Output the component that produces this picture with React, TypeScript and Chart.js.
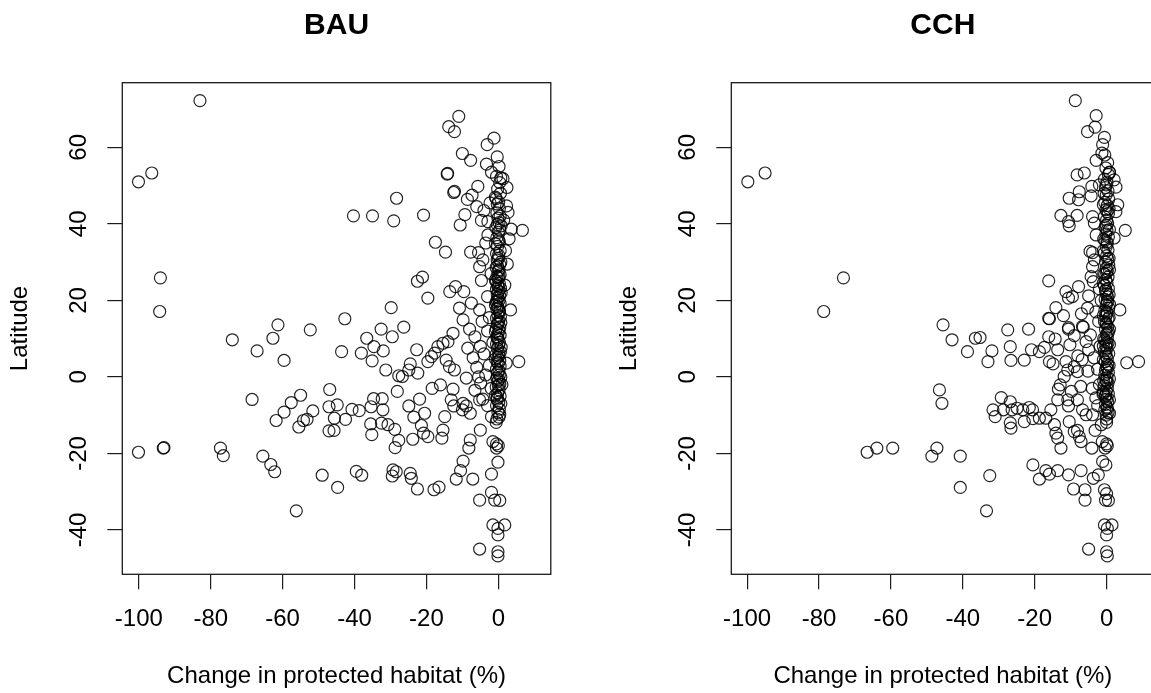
import React, { useEffect, useRef } from "react";
import { Chart, registerables } from "chart.js";

Chart.register(...registerables);

const xTickValues = [-100, -80, -60, -40, -20, 0];
const yTickValues = [-40, -20, 0, 20, 40, 60];
const panelTitles = ["BAU", "CCH"];
const xAxisTitle = "Change in protected habitat (%)";
const yAxisTitle = "Latitude";

// BAU scenario: [change in protected habitat (%), latitude]
const bauPoints: [number, number][] = [
  [-83.0, 72.2], [-100.1, 51.0], [-96.4, 53.3], [-94.0, 25.9], [-94.2, 17.1], [-61.3, 13.6], [-52.3, 12.3], [-42.7, 15.2], [-32.6, 12.5], [-26.3, 13.0],
  [-40.3, 42.1], [-35.0, 42.1], [-29.1, 40.8], [-28.3, 46.7], [-20.8, 42.3], [-17.5, 35.2], [-14.7, 32.6], [-22.5, 25.0], [-21.1, 26.1], [-19.6, 20.6],
  [-29.8, 18.1], [-13.8, 65.4], [-12.2, 64.1], [-11.0, 68.1], [-10.0, 58.4], [-7.7, 56.6], [-14.2, 53.0], [-14.1, 53.2], [-12.4, 48.2], [-12.2, 48.5],
  [-8.6, 46.4], [-7.3, 47.5], [-9.3, 42.4], [-10.6, 39.7], [-3.1, 60.7], [-1.2, 62.4], [-3.3, 55.6], [-1.9, 53.5], [1.3, 51.8], [2.4, 49.5],
  [-5.7, 49.8], [-4.7, 40.9], [6.7, 38.3], [3.6, 38.6], [2.7, 43.0], [2.3, 44.7], [3.0, 36.1], [-7.7, 32.6], [-5.5, 32.5], [-4.3, 30.6],
  [-5.2, 28.8], [-4.7, 25.2], [-13.5, 22.3], [-11.9, 23.6], [-9.6, 22.3], [-10.8, 18.0], [-7.5, 19.3], [3.4, 17.5], [-9.8, 14.9], [-5.2, 17.5],
  [-2.9, 37.1], [-2.9, 40.6],
  [-100.1, -19.7], [-93.2, -18.6], [-93.0, -18.5], [-77.3, -18.6], [-76.5, -20.6], [-74.0, 9.7], [-67.1, 6.8], [-62.7, 10.1], [-59.6, 4.3], [-43.6, 6.6],
  [-68.5, -5.9], [-65.5, -20.7], [-63.3, -22.9], [-62.2, -24.8], [-61.8, -11.4], [-59.6, -9.2], [-57.6, -6.7], [-55.0, -4.8], [-55.5, -13.1], [-54.2, -11.4],
  [-53.2, -11.1], [-51.6, -8.9], [-56.2, -35.0], [-49.0, -25.7], [-44.7, -28.9], [-46.9, -3.3], [-47.1, -7.8], [-44.8, -7.3], [-45.6, -10.8], [-47.1, -14.1],
  [-45.7, -14.0], [-42.5, -11.1], [-40.7, -8.5], [-38.7, -8.8], [-39.5, -24.7], [-38.0, -25.7], [-38.1, 6.2], [-36.6, 10.1], [-34.6, 7.9], [-35.1, 4.2],
  [-32.0, 6.8], [-29.5, 10.5], [-31.3, 1.8], [-34.7, -5.7], [-32.3, -5.7], [-35.4, -7.8], [-32.1, -8.6], [-35.5, -12.3], [-35.2, -15.1], [-32.5, -12.1],
  [-30.7, -12.5], [-28.8, -13.7], [-27.7, -16.6], [-28.7, -18.5], [-29.3, -24.3], [-28.4, -24.8], [-29.5, -25.9], [-24.5, -25.2], [-24.2, -26.5], [-22.5, -29.3],
  [-17.9, -29.5], [-16.5, -28.8], [-28.1, -3.8], [-27.7, 0.3], [-26.7, 0.1], [-24.5, 3.4], [-24.9, 1.8], [-22.4, 1.0], [-22.7, 7.1], [-21.9, -5.8],
  [-24.9, -7.6], [-23.5, -10.5], [-20.5, -9.5], [-23.8, -16.3], [-21.4, -12.7], [-20.8, -14.7], [-19.6, -15.6], [-15.7, -16.0], [-15.4, -13.9], [-14.9, -10.4],
  [-18.4, -3.0], [-16.1, -2.1], [-19.6, 4.0], [-18.6, 5.3], [-17.7, 6.2], [-16.8, 7.9], [-15.4, 8.8], [-14.0, 9.2], [-14.5, 4.4], [-13.6, 2.7],
  [-12.2, 1.8], [-12.6, 11.4], [-8.9, -0.3], [-12.6, -3.2], [-13.1, -6.0], [-12.4, -7.6], [-9.8, -6.9], [-10.0, -8.6], [-8.9, -7.6], [-7.8, -9.5],
  [-5.0, -13.9], [-7.8, -16.5], [-8.2, -18.6], [-9.8, -22.0], [-10.5, -24.5], [-11.7, -26.7], [-7.1, -26.7], [-5.2, -32.2], [-1.9, -30.2], [-1.9, -25.4],
  [-5.2, -45.0], [-1.0, -32.2], [0.4, -32.3], [-1.5, -38.7], [-0.1, -39.6], [1.8, -38.7], [-0.1, -41.3], [-0.1, -45.7], [-0.1, -46.8], [-1.5, -16.9],
  [-0.5, -17.5], [0.0, -18.0], [-0.5, -18.6], [-0.1, -22.3], [0.4, -9.8], [-1.9, -10.4], [-0.6, -11.9], [5.7, 4.0], [2.2, 3.6], [-5.2, -6.0],
  [-4.3, -5.8], [-4.9, -1.6], [-6.5, 10.5], [-5.0, 8.0], [-7.0, 5.0], [-6.0, 2.5], [-4.0, 6.0], [-3.0, 12.0], [-8.0, 12.5], [-4.5, 14.5],
  [-2.5, 3.0], [-3.5, 0.5], [-2.0, -3.0], [-6.5, -3.5], [-3.0, -7.5], [-1.5, 9.0], [-8.5, 7.5], [-2.5, 15.5], [1.0, -2.0], [-5.5, 0.0],
  [-2.3, 45.5], [-4.0, 43.5], [1.5, 41.0], [-3.5, 35.0], [2.0, 33.0], [-2.0, 27.0], [1.8, 24.0], [-3.0, 21.0], [2.5, 29.5], [-6.0, 44.5],
  [-0.3, 57.5], [0.2, 55.0], [-0.5, 52.4], [0.4, 50.8], [-0.2, 49.1], [0.6, 48.0], [-0.6, 46.6], [0.1, 45.7], [-0.3, 45.2], [0.3, 44.0],
  [-0.4, 42.9], [0.5, 42.0], [-0.1, 41.5], [0.2, 40.3], [-0.7, 39.0], [0.4, 38.4], [0.0, 37.8], [-0.4, 36.4], [0.3, 35.3], [-0.2, 34.1],
  [0.5, 33.0], [-0.5, 32.2], [0.1, 31.8], [-0.3, 30.5], [0.4, 29.4], [-0.6, 28.6], [0.2, 28.0], [-0.1, 27.5], [0.5, 26.7], [-0.4, 26.2],
  [0.0, 25.8], [-0.6, 24.9], [0.3, 24.4], [-0.2, 24.0], [0.6, 23.2], [-0.5, 22.9], [0.1, 22.4], [-0.3, 21.6], [0.4, 21.2], [-0.1, 20.8],
  [0.2, 20.0], [-0.6, 19.6], [0.5, 19.2], [-0.2, 18.4], [0.0, 18.0], [-0.4, 17.7], [0.3, 16.9], [-0.1, 16.1], [0.6, 15.7], [-0.5, 15.3],
  [0.1, 14.6], [-0.3, 13.8], [0.4, 13.0], [-0.6, 12.6], [0.2, 12.1], [-0.1, 11.3], [0.5, 10.9], [-0.4, 10.5], [0.0, 9.8], [0.3, 9.0],
  [-0.5, 8.6], [0.1, 8.2], [-0.2, 7.4], [0.6, 6.6], [-0.6, 5.9], [0.2, 5.5], [-0.1, 5.1], [0.4, 4.3], [-0.3, 3.9], [0.0, 3.5],
  [0.5, 2.8], [-0.5, 2.0], [0.2, 1.6], [-0.2, 1.2], [0.3, 0.5], [-0.4, -0.3], [0.1, -0.7], [-0.1, -1.1], [0.4, -1.9], [-0.6, -2.6],
  [0.2, -3.4], [-0.2, -4.2], [0.5, -5.0], [-0.3, -5.8], [0.1, -6.6], [-0.5, -7.5], [0.3, -8.4], [-0.1, -9.3],
  [0.7, 52.0], [-0.8, 47.0], [0.8, 39.5], [-0.8, 34.8], [0.7, 30.0], [-0.8, 25.3], [0.8, 22.0], [-0.8, 18.8], [0.7, 14.2], [-0.8, 11.8],
  [0.8, 7.8], [-0.8, 4.7], [0.7, 0.0], [-0.8, -4.8], [0.7, -7.0], [-0.2, 29.0], [0.2, 26.2], [0.0, 23.6], [-0.3, 19.9], [0.3, 17.3],
  [0.0, 14.0], [-0.2, 10.1], [0.2, 6.2], [0.0, -2.2], [-0.3, -5.3], [0.2, -10.5], [-0.4, -11.0], [0.0, 31.0], [0.1, 35.8], [-0.3, 39.8],
];

// CCH scenario: [change in protected habitat (%), latitude]
const cchPoints: [number, number][] = [
  [-8.7, 72.2], [-99.8, 51.0], [-95.0, 53.3], [-73.2, 25.9], [-78.7, 17.1], [-45.5, 13.6], [-27.5, 12.3], [-21.7, 12.5], [-16.1, 25.1], [-11.3, 22.3],
  [-10.6, 20.6], [-7.8, 23.6], [-14.1, 18.1], [-16.1, 15.3], [-10.6, 12.9], [-6.7, 13.2], [-5.0, 21.2], [-5.3, 18.0], [3.7, 17.5], [-2.9, 68.3],
  [-5.3, 64.1], [-3.2, 65.3], [-0.6, 62.6], [-1.1, 60.7], [-1.3, 58.5], [-2.9, 56.6], [0.8, 53.4], [-8.2, 52.8], [-6.2, 53.3], [-4.1, 49.8],
  [-2.0, 50.2], [2.1, 51.5], [2.6, 49.6], [-7.6, 48.4], [-4.3, 47.3], [-10.4, 46.7], [-7.8, 46.3], [-12.7, 42.2], [-10.6, 40.6], [-10.4, 39.5],
  [-8.2, 42.2], [-3.9, 41.9], [-3.4, 40.2], [3.1, 45.0], [2.6, 43.2], [5.2, 38.3], [2.1, 36.3], [-2.9, 37.1], [-4.6, 32.8], [-3.9, 32.5],
  [-3.4, 30.6], [-3.9, 28.8], [-4.3, 26.2], [-3.7, 24.9], [-66.6, -19.7], [-63.9, -18.6], [-59.5, -18.6], [-48.6, -20.7], [-47.2, -18.6], [-40.7, -20.7],
  [-40.7, -28.9], [-32.5, -25.8], [-33.4, -35.0], [-46.5, -3.4], [-45.8, -6.9], [-43.0, 9.7], [-38.7, 6.6], [-36.5, 10.1], [-35.2, 10.3], [-31.9, 6.8],
  [-33.0, 4.0], [-26.8, 7.9], [-26.6, 4.3], [-22.9, 4.4], [-20.9, 7.1], [-18.7, 6.6], [-17.3, 7.7], [-15.9, 15.2], [-16.1, 10.5], [-14.3, 9.9],
  [-13.6, 7.1], [-10.6, 12.5], [-9.0, 10.8], [-6.5, 13.0], [-10.2, 8.4], [-5.7, 9.2], [-5.0, 7.1], [-15.9, 4.0], [-14.9, 3.4], [-11.3, 4.0],
  [-10.8, 1.8], [-11.8, 0.1], [-9.0, 2.7], [-8.1, 1.4], [-12.9, -2.1], [-13.4, -3.2], [-13.6, -6.0], [-10.8, -6.0], [-10.6, -7.6], [-8.1, -6.0],
  [-15.5, -8.6], [-18.7, -10.8], [-16.9, -10.8], [-14.5, -12.5], [-14.1, -14.7], [-13.6, -16.0], [-12.7, -18.6], [-10.4, -11.7], [-9.0, -14.3], [-8.1, -14.0],
  [-7.6, -15.6], [-7.1, -16.9], [-4.1, -18.6], [-20.5, -23.0], [-18.7, -26.7], [-16.9, -24.5], [-15.9, -25.4], [-13.6, -24.5], [-10.6, -25.6], [-7.1, -24.5],
  [-9.2, -29.3], [-6.0, -29.5], [-6.0, -32.2], [-5.0, -45.0], [-3.7, -26.5], [-2.3, -25.6], [-1.1, -22.1], [-0.2, -23.0], [-0.6, -29.5], [0.0, -30.5],
  [-0.3, -32.2], [0.5, -32.3], [-0.6, -38.7], [0.2, -39.6], [1.5, -38.7], [0.0, -41.3], [0.0, -45.7], [0.2, -46.8], [-1.2, -16.9], [0.0, -17.5],
  [-0.4, -18.6], [0.2, -18.0], [-3.9, -9.9], [0.8, -9.5], [0.0, -11.9], [5.6, 3.7], [8.9, 4.0], [-6.7, -8.6], [-5.7, -9.9], [-3.0, -5.5],
  [-2.0, -2.0], [-4.0, -3.0], [-2.5, 2.0], [-3.5, 5.0], [-1.8, 8.0], [-4.5, 11.0], [-2.2, 14.5], [-3.0, 17.0], [-1.5, 20.0], [-2.0, 23.0],
  [-6.8, 4.5], [-5.2, 1.5], [-2.5, -7.5], [-1.5, -12.5], [-3.2, -14.0], [-1.0, -4.5], [-9.5, 21.0], [-7.0, 16.5], [-12.0, 16.0], [-8.0, 5.5],
  [-7.2, -2.5], [-9.8, -3.8],
  [-31.6, -8.6], [-31.0, -10.4], [-29.3, -5.4], [-28.7, -8.6], [-26.8, -6.5], [-26.3, -8.6], [-24.9, -8.2], [-23.3, -8.6], [-21.5, -8.0], [-20.6, -8.6],
  [-26.8, -12.0], [-26.6, -13.4], [-22.9, -11.7], [-20.5, -10.9],
  [-0.5, 58.0], [0.3, 56.0], [-0.2, 54.6], [0.5, 52.9], [-0.6, 51.7], [0.1, 50.9], [-0.3, 49.5], [0.4, 48.6], [-0.1, 47.6], [0.6, 46.5],
  [-0.5, 45.6], [0.2, 44.8], [-0.2, 43.7], [0.5, 42.7], [-0.6, 41.9], [0.0, 41.0], [0.3, 40.1], [-0.4, 39.2], [0.1, 38.3], [-0.2, 37.4],
  [0.5, 36.6], [-0.5, 35.7], [0.2, 34.9], [-0.1, 34.0], [0.4, 33.2], [-0.6, 32.4], [0.0, 31.6], [0.3, 30.8], [-0.3, 30.0], [0.6, 29.2],
  [-0.1, 28.4], [0.2, 27.7], [-0.5, 26.9], [0.4, 26.1], [-0.2, 25.4], [0.1, 24.6], [-0.6, 23.9], [0.5, 23.1], [-0.3, 22.4], [0.0, 21.7],
  [0.3, 20.9], [-0.4, 20.2], [0.2, 19.5], [-0.1, 18.8], [0.6, 18.0], [-0.5, 17.3], [0.1, 16.6], [-0.2, 15.9], [0.4, 15.2], [-0.6, 14.5],
  [0.0, 13.8], [0.3, 13.1], [-0.3, 12.4], [0.5, 11.7], [-0.1, 11.0], [0.2, 10.3], [-0.5, 9.6], [0.4, 8.9], [-0.2, 8.2], [0.1, 7.5],
  [-0.6, 6.8], [0.6, 6.1], [-0.1, 5.4], [0.2, 4.7], [-0.4, 4.0], [0.3, 3.3], [0.0, 2.6], [-0.3, 1.9], [0.5, 1.2], [-0.5, 0.5],
  [0.1, -0.2], [-0.2, -0.9], [0.4, -1.6], [-0.6, -2.3], [0.2, -3.0], [-0.1, -3.7], [0.5, -4.4], [-0.4, -5.1], [0.0, -5.8], [0.3, -6.5],
  [-0.3, -7.2], [0.1, -7.9], [-0.5, -8.6], [0.4, -9.3], [-0.1, -10.0], [-0.8, 27.0], [0.7, 21.5], [-0.8, 10.0], [0.7, 15.5], [-0.8, 36.0],
  [0.7, 3.0], [-0.8, -1.0], [0.7, 44.0], [-0.7, 48.0], [0.7, 31.0],
  [0.8, 53.5], [-0.9, 45.0], [0.8, 38.5], [-0.9, 33.0], [0.8, 28.0], [-0.9, 24.5], [0.8, 19.0], [-0.9, 16.0], [0.8, 12.5], [-0.9, 8.0],
  [0.8, 8.5], [-0.9, 4.5], [0.8, -0.5], [-0.9, -4.0], [0.8, -6.0], [0.0, 27.2], [-0.2, 22.8], [0.2, 19.9], [0.0, 17.0], [-0.2, 14.1],
  [0.2, 11.4], [0.0, 9.0], [-0.2, 6.3], [0.2, 2.2], [0.0, -1.2], [-0.2, -4.7], [0.2, -8.3], [0.0, -11.0], [0.1, 35.3], [-0.1, 39.6],
  [0.1, 43.2], [-0.1, 50.2],
];

const FONT = "'Liberation Sans', Arial, Helvetica, sans-serif";

type PanelProps = {
  title: string;
  points: [number, number][];
  xMin: number;
  xMax: number;
  left: number;
  padRight: number;
};

const boxPlugin = {
  id: "rbox",
  afterDraw(chart: any) {
    const { ctx, chartArea: a } = chart;
    ctx.save();
    ctx.strokeStyle = "#1a1a1a";
    ctx.lineWidth = 1.3;
    ctx.strokeRect(a.left, a.top, a.right - a.left, a.bottom - a.top);
    ctx.restore();
  },
};

function Panel({ title, points, xMin, xMax, left, padRight }: PanelProps) {
  const ref = useRef<HTMLCanvasElement>(null);
  useEffect(() => {
    if (!ref.current) return;
    const data = points.map(([x, y]) => ({ x, y }));
    const chart = new Chart(ref.current, {
      type: "scatter",
      data: {
        datasets: [
          {
            data,
            pointStyle: "circle",
            pointRadius: 6,
            pointHoverRadius: 6,
            pointBorderWidth: 1.2,
            pointBorderColor: "rgba(0,0,0,0.85)",
            pointBackgroundColor: "rgba(0,0,0,0)",
          },
        ],
      },
      options: {
        animation: false,
        responsive: false,
        events: [],
        layout: { padding: { left: 0, right: padRight, top: 0, bottom: 0 } },
        plugins: {
          legend: { display: false },
          tooltip: { enabled: false },
          title: {
            display: true,
            text: title,
            fullSize: false,
            color: "#000",
            font: { family: FONT, size: 30, weight: "bold" },
            padding: { top: 7.5, bottom: 39.2 },
          },
        },
        scales: {
          x: {
            type: "linear",
            min: xMin,
            max: xMax,
            afterBuildTicks: (s: any) => {
              s.ticks = xTickValues.map((v) => ({ value: v }));
            },
            afterFit: (s: any) => {
              s.height = 118.7;
            },
            grid: { drawOnChartArea: false, drawTicks: true, tickLength: 15, color: "#1a1a1a", lineWidth: 1.2 },
            border: { display: false },
            ticks: { color: "#000", font: { family: FONT, size: 24 }, padding: 15.3, maxRotation: 0, autoSkip: false },
            title: {
              display: true,
              text: xAxisTitle,
              color: "#000",
              font: { family: FONT, size: 24 },
              padding: { top: 0, bottom: 2 },
            },
          },
          y: {
            type: "linear",
            min: -51.6,
            max: 76.9,
            afterBuildTicks: (s: any) => {
              s.ticks = yTickValues.map((v) => ({ value: v }));
            },
            afterFit: (s: any) => {
              s.width = 122.3;
            },
            grid: { drawOnChartArea: false, drawTicks: true, tickLength: 15, color: "#1a1a1a", lineWidth: 1.2 },
            border: { display: false },
            ticks: {
              color: "#000",
              font: { family: FONT, size: 24 },
              padding: 11,
              minRotation: 90,
              maxRotation: 90,
              crossAlign: "center",
              autoSkip: false,
            },
            title: {
              display: true,
              text: yAxisTitle,
              color: "#000",
              font: { family: FONT, size: 24 },
              padding: { top: 6, bottom: 0 },
            },
          },
        },
      } as any,
      plugins: [boxPlugin],
    });
    return () => chart.destroy();
  }, [title, points, xMin, xMax, padRight]);
  return (
    <canvas
      ref={ref}
      width={575}
      height={693}
      style={{ position: "absolute", left, top: 0, width: 575, height: 693 }}
    />
  );
}

export default function App() {
  return (
    <div
      style={{
        position: "fixed",
        left: 0,
        top: 0,
        width: 1151,
        height: 693,
        overflow: "hidden",
        background: "#fff",
      }}
    >
      <Panel title={panelTitles[0]} points={bauPoints} xMin={-104.6} xMax={14.6} left={0} padRight={24.2} />
      <Panel title={panelTitles[1]} points={cchPoints} xMin={-104.4} xMax={13.3} left={609} padRight={29.6} />
    </div>
  );
}
